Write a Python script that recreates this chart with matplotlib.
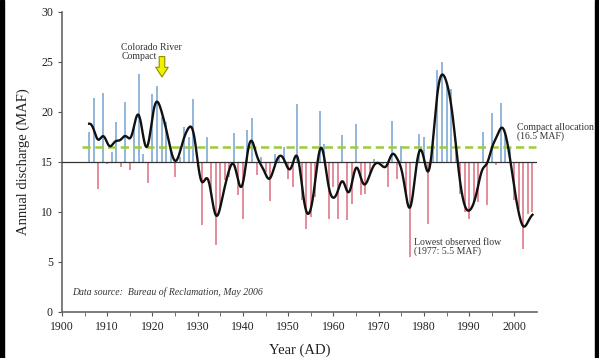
import numpy as np
import matplotlib.pyplot as plt
from matplotlib.patches import Rectangle

# годовой сток р. Колорадо (Lees Ferry), млн акро-футов
years = list(range(1906, 2005))
flow = [18.0, 21.4, 12.3, 21.9, 14.8, 16.0, 19.0, 14.5, 21.0, 14.2,   # 1906-1915
        18.5, 23.8, 15.8, 12.9, 21.8, 22.6, 19.5, 19.0, 16.0, 13.5,   # 1916-1925
        15.5, 18.5, 17.5, 21.3, 14.5, 8.7, 17.5, 11.8, 6.7, 10.5,     # 1926-1935
        13.2, 13.5, 17.9, 11.7, 9.3, 18.2, 19.4, 13.7, 15.5, 14.0,    # 1936-1945
        11.1, 15.8, 15.6, 16.5, 13.3, 12.5, 20.8, 11.2, 8.3, 9.5,     # 1946-1955
        11.5, 20.1, 16.8, 9.3, 12.5, 9.3, 17.7, 9.2, 10.8, 18.8,      # 1956-1965
        11.7, 11.8, 13.8, 15.3, 15.0, 14.8, 12.5, 19.1, 13.3, 16.6,   # 1966-1975
        12.0, 5.5, 15.0, 17.8, 17.5, 8.8, 17.0, 24.2, 25.0, 22.8,     # 1976-1985
        22.3, 17.0, 11.8, 10.0, 9.3, 11.0, 11.0, 18.0, 10.7, 19.9,    # 1986-1995
        14.7, 20.9, 17.8, 16.5, 11.2, 10.3, 6.3, 9.8, 10.0]           # 1996-2004

base = 15.0
compact = 16.5
xticks = list(range(1900, 2001, 10))
yticks = list(range(0, 31, 5))

years = np.array(years)
flow = np.array(flow)

# сглаживание (гауссово ядро)
def smooth(x, y, sigma, grid):
    w = np.exp(-0.5 * ((grid[:, None] - x[None, :]) / sigma) ** 2)
    return (w @ y) / w.sum(axis=1)


plt.rcParams['font.family'] = ['Liberation Serif', 'DejaVu Serif']

fig = plt.figure(figsize=(5.99, 3.58), dpi=100)
ax = fig.add_axes([0.1035, 0.1293, 0.793, 0.8377])

colors = np.where(flow >= base, '#94b8dc', '#e3909c')
ax.bar(years, flow - base, bottom=base, width=0.45, color=colors, zorder=2)

ax.plot([1900, 2004.8], [base, base], color='#333333', lw=0.9, zorder=3)
ax.plot([1904.5, 2004.8], [compact, compact], color='#9ccc3c', lw=1.8,
        dashes=(3.3, 1.8), zorder=3)

grid = np.linspace(years[0], years[-1], 1000)
ax.plot(grid, smooth(years, flow, 0.95, grid), color='#111111', lw=1.7, zorder=4)

ax.set_xlim(1900, 2005)
ax.set_ylim(0, 30)
ax.set_xticks(xticks)
ax.set_xticks(range(1905, 2005, 10), minor=True)
ax.set_yticks(yticks)
for s in ['top', 'right']:
    ax.spines[s].set_visible(False)
for s in ['left', 'bottom']:
    ax.spines[s].set_color('#666666')
    ax.spines[s].set_linewidth(1.2)
ax.tick_params(which='both', direction='out', length=3, color='#555555',
               labelsize=8.5, labelcolor='#222222')
ax.set_xlabel('Year (AD)', fontsize=10.5, color='#222222', labelpad=8)
ax.set_ylabel('Annual discharge (MAF)', fontsize=10.5, color='#222222', labelpad=8)

txt = dict(fontsize=7, color='#333333', va='top', ha='left')
ax.text(1913.1, 26.9, 'Colorado River\nCompact', linespacing=1.0, **txt)
ax.text(2000.5, 18.9, 'Compact allocation\n(16.5 MAF)', linespacing=1.0, **txt)
ax.text(1977.9, 7.4, 'Lowest observed flow\n(1977: 5.5 MAF)', linespacing=1.0, **txt)
ax.text(1902.3, 2.0, 'Data source:  Bureau of Reclamation, May 2006', fontsize=7,
        style='italic', color='#333333', va='center', ha='left')

ax.annotate('', xy=(1922.1, 23.2), xytext=(1922.1, 25.8),
            arrowprops=dict(arrowstyle='simple,head_width=0.9,head_length=0.7,tail_width=0.4',
                            mutation_scale=10, fc='#f2f000', ec='#8f8f00', lw=0.8),
            zorder=5)

# чёрная рамка по бокам
fig.add_artist(Rectangle((0, 0), 4 / 599, 1, transform=fig.transFigure, color='black'))
fig.add_artist(Rectangle((1 - 4 / 599, 0), 4 / 599, 1, transform=fig.transFigure, color='black'))

fig.savefig('out.png', dpi=100)
